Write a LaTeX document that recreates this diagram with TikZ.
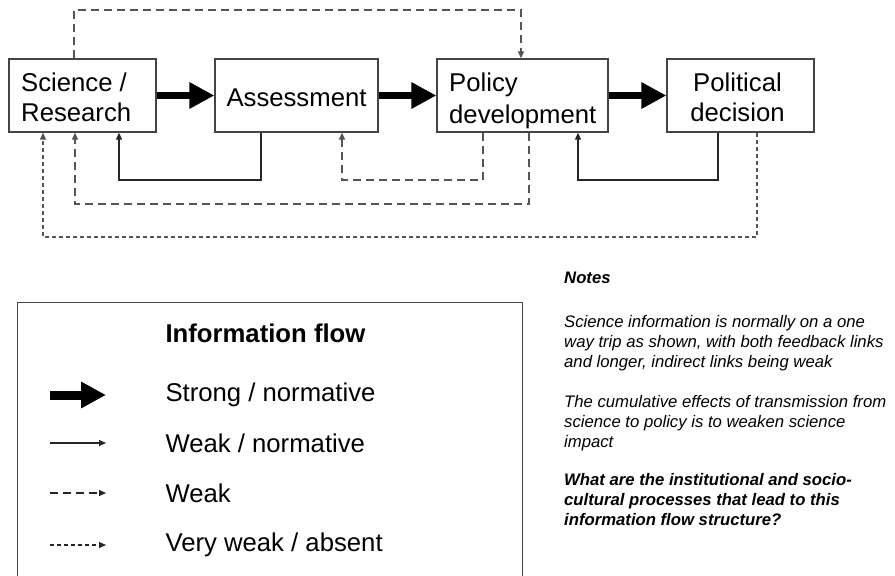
\documentclass[tikz,border=0pt]{standalone}
\usepackage{fontspec}
\setmainfont{Liberation Sans}
\usetikzlibrary{arrows.meta}
\definecolor{boxline}{HTML}{444444}
\definecolor{dashcol}{HTML}{555555}
\tikzset{
  box/.style={draw=boxline, line width=1.3pt, minimum height=73pt, inner sep=0pt},
  boxtxt/.style={inner sep=0pt, font=\fontsize{25.7}{30}\selectfont},
  big/.style={line width=7.5pt, -{Triangle[length=25pt,width=25pt]}},
  tip/.style={-{Triangle[length=7pt,width=6pt]}},
  solidfb/.style={tip, draw=black!85, line width=1.3pt},
  weakfb/.style={tip, draw=dashcol, line width=1.3pt, dash pattern=on 8pt off 5pt},
  vweakfb/.style={tip, draw=dashcol, line width=1.3pt, dash pattern=on 4pt off 3pt},
  legtxt/.style={anchor=west, font=\fontsize{25.7}{30}\selectfont},
  note/.style={anchor=north west, align=left,
    font=\fontsize{16.7}{20}\selectfont\itshape, inner sep=0pt},
}
\begin{document}
\begin{tikzpicture}[x=1pt,y=-1pt]
\useasboundingbox (0,0) rectangle (895,576);
\begin{scope}
\clip (0,0) rectangle (895,576);
% main boxes
\node[box, minimum width=147pt] (sci) at (82.5,95.5) {};
\node[box, minimum width=163pt] (ass) at (296.5,95.5) {};
\node[box, minimum width=171pt] (pol) at (522.5,95.5) {};
\node[box, minimum width=147pt] (dec) at (740.5,95.5) {};
\node[boxtxt, align=left, anchor=west] (scit) at (21,100.5) {\strut Science /\\\strut Research};
\node[boxtxt] (asst) at (296.5,97.5) {Assessment};
\node[boxtxt, align=left, anchor=west] (polt) at (449,101.5) {\strut Policy\\[2pt]\strut development};
\node[boxtxt, align=center] (dect) at (737.5,100.5) {\strut Political\\\strut decision};

% strong arrows
\draw[big] (sci.east) -- (ass.west);
\draw[big] (ass.east) -- (pol.west);
\draw[big] (pol.east) -- (dec.west);

% top weak link
\coordinate (t1) at (74,10);
\coordinate (t2) at (521,10);
\draw[weakfb] (sci.north -| t1) -- (t1) -- (t2) -- (pol.north -| t2);

% solid feedbacks
\coordinate (a1) at (261,180);
\coordinate (a2) at (119,180);
\draw[solidfb] (ass.south -| a1) -- (a1) -- (a2) -- (sci.south -| a2);
\coordinate (d1) at (718,180);
\coordinate (d2) at (578,180);
\draw[solidfb] (dec.south -| d1) -- (d1) -- (d2) -- (pol.south -| d2);

% weak feedbacks
\coordinate (p1) at (483,180);
\coordinate (p2) at (342,180);
\draw[weakfb] (pol.south -| p1) -- (p1) -- (p2) -- (ass.south -| p2);
\coordinate (q1) at (529,204);
\coordinate (q2) at (75,204);
\draw[weakfb] (pol.south -| q1) -- (q1) -- (q2) -- (sci.south -| q2);

% very weak
\coordinate (v1) at (757,237);
\coordinate (v2) at (43,237);
\draw[vweakfb] (dec.south -| v1) -- (v1) -- (v2) -- (sci.south -| v2);

% legend
\node[draw=boxline, line width=1.3pt, minimum width=505pt, minimum height=300pt, anchor=north west] (legend) at (17,302) {};
\node[legtxt, font=\fontsize{25.7}{30}\selectfont\bfseries] (ltitle) at (162,333) {Information flow};
\node[legtxt] (l1) at (162,395) {Strong / normative};
\node[legtxt] (l2) at (162,443) {Weak / normative};
\node[legtxt] (l3) at (162,493) {Weak};
\node[legtxt] (l4) at (162,545) {Very weak / absent};
\coordinate (s1) at (50,395); \coordinate (e1) at (106,395);
\coordinate (s2) at (50,443); \coordinate (e2) at (106,443);
\coordinate (s3) at (50,493); \coordinate (e3) at (106,493);
\coordinate (s4) at (50,545); \coordinate (e4) at (106,545);
\draw[big, line width=9pt] (s1) -- (e1);
\draw[solidfb] (s2) -- (e2);
\draw[weakfb, draw=black!85] (s3) -- (e3);
\draw[vweakfb, draw=black!85] (s4) -- (e4);

% notes
\node[note, font=\fontsize{16.7}{20}\selectfont\bfseries\itshape] (notes) at (564,272) {Notes};
\node[note] (n1) at (564,315) {Science information is normally on a one\\way trip as shown, with both feedback links\\and longer, indirect links being weak};
\node[note] (n2) at (564,395) {The cumulative effects of transmission from\\science to policy is to weaken science\\impact};
\node[note, font=\fontsize{16.7}{20}\selectfont\bfseries\itshape] (n3) at (564,473) {What are the institutional and socio-\\cultural processes that lead to this\\information flow structure?};
\end{scope}
\end{tikzpicture}
\end{document}
